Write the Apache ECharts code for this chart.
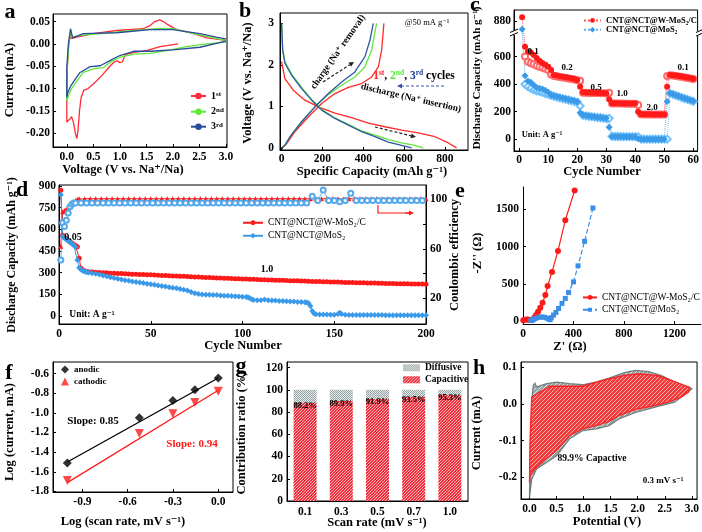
<!DOCTYPE html>
<html><head><meta charset="utf-8">
<script src="https://cdn.jsdelivr.net/npm/echarts@6/dist/echarts.min.js"></script>
<style>html,body{margin:0;padding:0;background:#fff}#c{width:702px;height:532px}</style>
</head><body><div id="c"></div>
<script>
// ---------------- DATA ----------------
// (a) CV curves, [V, mA]
const aCycle1 = [[2.10,0.000],[1.76,-0.006],[1.50,-0.015],[1.26,-0.019],[1.10,-0.024],[1.05,-0.040],[1.00,-0.042],[0.95,-0.038],[0.90,-0.040],[0.82,-0.049],[0.66,-0.071],[0.50,-0.090],[0.40,-0.100],[0.32,-0.104],[0.27,-0.120],[0.24,-0.150],[0.21,-0.195],[0.19,-0.212],[0.16,-0.200],[0.13,-0.178],[0.09,-0.163],[0.06,-0.168],[0.03,-0.172],[0.00,-0.175],[0.00,-0.130],[0.01,-0.053],[0.03,-0.008],[0.06,0.020],[0.08,0.012],[0.10,0.008],[0.19,0.015],[0.50,0.023],[0.94,0.030],[1.44,0.034],[1.57,0.041],[1.66,0.050],[1.75,0.054],[1.82,0.050],[1.88,0.045],[2.07,0.032],[2.39,0.023],[2.64,0.0135],[3.00,0.008]];
const aCycle2 = [[3.00,0.004],[2.64,0.000],[2.26,-0.006],[1.88,-0.015],[1.57,-0.021],[1.26,-0.023],[1.00,-0.030],[0.82,-0.041],[0.69,-0.053],[0.50,-0.056],[0.31,-0.064],[0.19,-0.083],[0.09,-0.100],[0.03,-0.117],[0.00,-0.128],[0.00,-0.090],[0.01,-0.053],[0.04,0.000],[0.075,0.030],[0.10,0.015],[0.25,0.019],[0.63,0.023],[1.26,0.030],[1.76,0.035],[2.00,0.034],[2.39,0.023],[2.76,0.0135],[3.00,0.0075]];
const aCycle3 = [[3.00,0.006],[2.51,-0.0075],[2.00,-0.0135],[1.57,-0.0165],[1.26,-0.0165],[1.00,-0.026],[0.82,-0.037],[0.63,-0.049],[0.44,-0.051],[0.25,-0.064],[0.16,-0.079],[0.075,-0.094],[0.02,-0.109],[0.00,-0.120],[0.00,-0.090],[0.00,-0.053],[0.03,0.000],[0.07,0.034],[0.08,0.038],[0.11,0.0135],[0.31,0.023],[0.94,0.025],[1.57,0.032],[2.00,0.032],[2.51,0.023],[2.82,0.015],[2.97,0.012],[3.00,0.011]];
// (b) charge / discharge, [mAh/g, V]
const bDis1 = [[0,2.08],[16,1.67],[57,1.39],[114,1.15],[180,0.99],[261,0.84],[343,0.73],[425,0.60],[506,0.51],[588,0.43],[670,0.36],[751,0.27],[817,0.12],[857,0.0]];
const bCha1 = [[0,0],[24,0.10],[65,0.39],[131,0.75],[196,1.07],[261,1.31],[327,1.46],[392,1.55],[441,1.71],[474,1.95],[490,2.36],[501,3.0]];
const bDis2 = [[0,3.0],[5,2.36],[16,2.08],[49,1.78],[98,1.46],[147,1.17],[196,0.93],[261,0.72],[327,0.57],[392,0.41],[457,0.31],[523,0.20],[588,0.12],[653,0.06],[694,0]];
const bCha2 = [[0,0],[16,0.06],[41,0.27],[98,0.63],[163,0.99],[229,1.29],[294,1.51],[359,1.71],[408,1.95],[441,2.36],[465,3.0]];
const bDis3 = [[0,3.0],[5,2.36],[16,2.04],[49,1.75],[98,1.43],[147,1.15],[196,0.91],[261,0.71],[327,0.55],[392,0.39],[457,0.27],[523,0.14],[588,0.06],[637,0]];
const bCha3 = [[0,0],[16,0.06],[41,0.27],[98,0.63],[163,0.99],[229,1.31],[294,1.59],[359,1.83],[408,2.20],[433,2.60],[449,3.0]];
// (c) rate capability, cycle 1..60
const cRedDis = [905,672,636,630,612,590,570,553,540,527, 503,467,462,458,454,450,446,442,437,430, 382,341,340,339,338,337,336,336,335,334, 290,262,261,261,260,260,260,259,259,259, 200,182,181,181,181,180,180,180,180,180, 382,467,465,462,459,456,452,448,444,440];
const cRedCha = [null,600,563,551,544,534,527,519,512,503, 470,460,456,452,448,445,441,437,433,429, 425,338,337,336,336,335,335,334,334,333, 338,260,260,259,259,259,258,258,258,258, 249,181,180,180,180,179,179,179,179,179, 460,464,462,459,456,453,449,445,441,437];
const cBlueDis = [818,461,423,413,394,375,370,365,355,341, 321,316,310,305,299,294,289,284,279,273, 193,176,172,169,166,163,160,158,155,152, 87,20,20,20,19,19,19,19,18,18, 3,1,1,1,1,1,1,1,1,1, 275,335,328,320,313,305,298,291,284,277];
const cBlueCha = [null,399,382,370,358,351,346,341,332,327, 318,312,306,300,295,290,285,280,275,270, 242,173,170,167,164,161,158,156,153,150, 152,21,20,20,20,19,19,19,19,19, 18,2,1,1,1,1,1,1,1,1, 1,333,326,318,311,303,296,289,282,275];
const cRateLabels = ['0.1','0.2','0.5','1.0','2.0','0.1'];
// (d) long cycling
const dCapRed = [870,560,545,535,525,515,505,495,488,480,400,330,318,312,308,
 306,305,303,302,300,299,297,296,295,294, 293,291,290,289,288,287,286,285,284,283,
 281,280,279,278,277,276,275,273,272,271, 270,268,267,266,265,264,263,262,261,260,
 259,258,257,256,255,254,253,252,251,250, 249,248,248,247,246,245,244,244,243,242,
 241,240,240,239,238,237,236,236,235,234, 233,232,232,231,230,230,229,229,228,227,
 227,226,226,225,224,224,223,223,222,222, 221,221,220];
const dCapBlue = [[1,840],[2,550],[3,540],[4,530],[5,520],[6,510],[7,500],[8,490],[9,478],[10,388],[11,335],[12,322],[13,314],[14,308],[15,304],[16,301],[18,297],[20,292],[22,287],[24,281],[26,275],[28,269],[30,263],[32,258],[34,253],[36,248],[38,244],[40,240],[42,236],[44,232],[46,228],[48,224],[50,220],[52,216],[54,212],[56,208],[58,204],[60,200],[62,196],[64,192],[66,187],[68,182],[70,176],[72,166],[74,157],[76,152],[78,150],[80,148],[82,147],[84,146],[86,145],[88,143],[90,141],[92,140],[94,138],[96,137],[98,135],[100,134],[102,132],[103,130],[104,124],[105,116],[106,111],[108,110],[110,109],[112,115],[114,110],[116,108],[118,107],[120,105],[122,104],[124,103],[126,101],[128,100],[130,98],[132,97],[134,95],[135,93],[136,88],[137,70],[138,35],[139,18],[140,13],[142,11],[144,10],[146,10],[148,9],[150,9],[152,14],[153,22],[154,14],[156,9],[158,8],[160,8],[162,8],[164,8],[166,8],[168,7],[170,7],[172,7],[174,7],[176,7],[178,6],[180,6],[182,6],[184,6],[186,6],[188,6],[190,5],[192,5],[194,5],[196,5],[198,5],[200,5]];
const dCeRed = [62,90,91,92,93,94.5,96,97.5,99,100,100.5,
 100.5,100.5,100.5,100.5,100.5,100.5,100.5,100.5,100.5,100.5, 100.5,100.5,100.5,100.5,100.5,100.5,100.5,100.5,100.5,100.5,
 100.5,100.5,100.5,100.5,100.5,100.5,100.5,100.5,100.5,100.5, 100.5,100.5,100.5,100.5,100.5,100.5,100.5,100.5,100.5,100.5,
 100.5,100.5,100.5,100.5,100.5,100.5,100.5,100.5,100.5,100.5, 100.5,100.5,100.5,100.5,100.5,100.5,100.5,100.5,100.5,100.5,
 100.5,100.5,100.5];
const dCeBlue = [51,81,78,83,89,94,96,97,97,
 97,97,97,97,97,97,97,97,97,97, 97,97,97,97,97,97,97,97,97,97, 97,97,97,97,97,97,97,97,97,97, 97,97,97,97,97,97,97,97,97,97, 97,97,
 102.5,99,107.5,99,99,98,99,105,
 99,99,99,99,99,99,99,99,99,99,99,99,99];
// (e) Nyquist, [Z', -Z'']
const eRed = [[2,9],[14,18],[27,22],[40,20],[52,15],[65,13],[78,18],[89,45],[103,80],[119,125],[137,178],[155,245],[177,348],[195,469],[230,660],[277,942],[335,1353],[409,1754]];
const eBlue = [[62,6],[78,18],[95,32],[112,44],[130,52],[150,55],[170,50],[190,38],[205,25],[215,18],[224,45],[242,80],[261,116],[282,170],[309,237],[335,304],[361,384],[400,526],[436,741],[488,1071],[554,1518]];
// (f) log i vs log v
const fLogV = [-1.0,-0.523,-0.301,-0.155,0.0];
const fAnodic = [-1.51,-1.05,-0.875,-0.765,-0.645];
const fCathodic = [-1.69,-1.21,-1.01,-0.895,-0.78];
const fAnodicFit = [[-1.0,-1.50],[0.0,-0.645]];
const fCathodicFit = [[-1.0,-1.71],[0.0,-0.77]];
// (g) contribution ratio
const gRates = ['0.1','0.3','0.5','0.7','1.0'];
const gCapacitive = [88.2,89.9,91.9,93.5,95.3];
const gDiffusive = [11.8,10.1,8.1,6.5,4.7];
// (h) CV loops at 0.3 mV/s
const hTotal = [[0,-0.255],[0.02,-0.10],[0.05,0.02],[0.07,0.05],[0.10,0.056],[0.13,0.046],[0.32,0.055],[0.50,0.059],[0.74,0.055],[0.98,0.052],[1.23,0.059],[1.47,0.070],[1.77,0.086],[1.96,0.091],[2.20,0.088],[2.44,0.077],[2.68,0.059],[2.96,0.045],[3.00,0.041],[2.93,0.032],[2.68,0.0045],[2.32,-0.009],[1.96,-0.023],[1.65,-0.041],[1.47,-0.059],[1.23,-0.068],[0.98,-0.073],[0.74,-0.095],[0.50,-0.141],[0.32,-0.159],[0.13,-0.177],[0.04,-0.205],[0.00,-0.255]];
const hCapacitive = [[0.0,-0.214],[0.01,-0.10],[0.04,0.018],[0.13,0.027],[0.38,0.048],[0.74,0.048],[0.98,0.048],[1.35,0.064],[1.72,0.077],[2.02,0.082],[2.38,0.077],[2.62,0.064],[2.87,0.050],[2.96,0.045],[2.94,0.032],[2.80,0.018],[2.56,0.0045],[2.32,-0.0045],[1.96,-0.015],[1.65,-0.032],[1.47,-0.048],[1.23,-0.059],[0.98,-0.068],[0.74,-0.086],[0.50,-0.127],[0.26,-0.155],[0.10,-0.177],[0.01,-0.195],[0.0,-0.214]];

// ---------------- HELPERS ----------------
const FONT = '"Liberation Serif","Times New Roman","DejaVu Serif",serif';
const range = (a,b,s) => { const r=[]; for (let v=a; v<=b; v+=s) r.push(v); return r; };
const pairs = (xs, ys) => xs.map((x,i) => [x, ys[i]]);
const RED='#ff1a1a', GREEN='#5fe83a', NAVY='#2b4c9b', LBLUE='#3a9ae8';

function vaxis(grid, min, max, ticks, fmt, margin, extra) {
  return Object.assign({
    type:'value', gridIndex:grid, min:min, max:max,
    axisLine:{show:true, onZero:false, lineStyle:{color:'#000', width:1}},
    axisTick:{show:true, inside:true, length:3, customValues:ticks, lineStyle:{color:'#000'}},
    axisLabel:{show:true, customValues:ticks, formatter:fmt, color:'#000', fontFamily:FONT, fontWeight:'bold', fontSize:11.5, margin:margin},
    splitLine:{show:false}
  }, extra||{});
}
function txt(x, y, text, size, opt) {
  opt = opt || {};
  return {type:'text', x:x, y:y, rotation:opt.rot||0, silent:true, z:100,
    style:{text:text, fill:opt.color||'#000', font:(opt.weight||'bold')+' '+size+'px '+FONT,
      align:opt.align||'center', verticalAlign:'middle', rich:opt.rich}};
}
function arrow(x1,y1,x2,y2,color,dash) {
  const ang = Math.atan2(y2-y1, x2-x1), L=5, W=2.5;
  const bx = x2 - L*Math.cos(ang), by = y2 - L*Math.sin(ang);
  return [
    {type:'line', silent:true, z:100, shape:{x1:x1,y1:y1,x2:bx,y2:by}, style:{stroke:color, lineWidth:1.2, lineDash: dash?[3,2]:null}},
    {type:'polygon', silent:true, z:100, shape:{points:[[x2,y2],[bx-W*Math.sin(ang), by+W*Math.cos(ang)],[bx+W*Math.sin(ang), by-W*Math.cos(ang)]]}, style:{fill:color}}
  ];
}
function pat(w, h, bg, fg, pts) {
  const c = document.createElement('canvas'); c.width=w; c.height=h;
  const x = c.getContext('2d'); x.fillStyle=bg; x.fillRect(0,0,w,h); x.fillStyle=fg;
  pts.forEach(p => x.fillRect(p[0],p[1],1,1));
  return {image:c, repeat:'repeat'};
}
function leg(name, left, cy, iw, ih, size, weight, extra) {
  return Object.assign({
    data:[name], left:left, top:cy - size/2 - 0.5, orient:'vertical', padding:0, itemGap:0,
    itemWidth:iw, itemHeight:ih, selectedMode:false,
    textStyle:{fontFamily:FONT, fontSize:size, fontWeight:weight, color:'#000'}
  }, extra||{});
}
const cBreak = v => v == null ? null : (v > 770 ? v - 20 : v);

const capPat = pat(3,3,'#f0303c','#ffb4b8',[[0,0],[2,1],[1,2]]);
const difPat = pat(2,2,'#e4eaea','#97a5a5',[[0,0],[1,1]]);
const hRedPat = pat(4,4,'#f23c3c','#ffaaaa',[[3,0],[2,1],[1,2],[0,3]]);
const hGrayPat = pat(4,4,'#98a4a4','#dde3e3',[[3,0],[2,1],[1,2],[0,3]]);

// ---------------- GRIDS & AXES ----------------
const gb = {show:true, borderColor:'#000', borderWidth:1};
const grids = [
  Object.assign({left:53, top:14, width:174, height:133}, gb),
  Object.assign({left:280, top:13, width:188, height:137}, gb),
  Object.assign({left:514, top:10, width:186, height:141}, gb),
  Object.assign({left:59, top:185, width:367, height:139}, gb),
  {left:523, top:187, width:178, height:137},
  Object.assign({left:53, top:362, width:180, height:130}, gb),
  Object.assign({left:287, top:362, width:181, height:139}, gb),
  Object.assign({left:521, top:362, width:178, height:137}, gb)
];
const f1 = v => v.toFixed(1), f2 = v => v.toFixed(2), f0 = v => String(v);
const xAxes = [
  vaxis(0,-0.26,3.02,[0,0.5,1,1.5,2,2.5,3],f1,4),
  vaxis(1,-8,913,[0,200,400,600,800],f0,3),
  vaxis(2,-1.8,61.5,[0,10,20,30,40,50,60],f0,3),
  vaxis(3,0,200,[0,50,100,150,200],f0,4),
  vaxis(4,0,1410,[0,400,800,1200],f0,4),
  vaxis(5,-1.095,0.0975,[-0.9,-0.6,-0.3,0],f1,4),
  {type:'category', gridIndex:6, data:gRates,
    axisLine:{show:true, lineStyle:{color:'#000'}},
    axisTick:{show:true, inside:true, length:3, alignWithLabel:true, lineStyle:{color:'#000'}},
    axisLabel:{color:'#000', fontFamily:FONT, fontWeight:'bold', fontSize:11.5, margin:5, interval:0}},
  vaxis(7,-0.157,3.097,[0,0.5,1,1.5,2,2.5,3],f1,4)
];
const yAxes = [
  vaxis(0,-0.231,0.067,[-0.2,-0.15,-0.1,-0.05,0,0.05],f2,3),
  vaxis(1,-0.05,3.25,[0,1,2,3],f0,6),
  vaxis(2,-85,938,[0,200,400,600,860],v => v===860?'880':String(v),3),
  vaxis(3,-55,907,[0,150,300,450,600,750,900],f0,3),
  vaxis(3,-0.8,111.6,[20,60,100],f0,4,{position:'right',
     axisTick:{show:true, inside:true, length:3, customValues:[20,40,60,80,100], lineStyle:{color:'#000'}}}),
  vaxis(4,-40,1800,[0,500,1000,1500],f0,4),
  vaxis(5,-1.806,-0.482,[-1.8,-1.6,-1.4,-1.2,-1.0,-0.8,-0.6],f1,4),
  vaxis(6,0,125,[0,20,40,60,80,100,120],f0,4),
  vaxis(7,-0.259,0.114,[-0.2,-0.1,0,0.1],f1,4)
];

// ---------------- SERIES ----------------
const S = [];
function ln(name, xi, yi, data, color, w, extra) {
  S.push(Object.assign({name:name, type:'line', xAxisIndex:xi, yAxisIndex:yi, data:data, symbol:'none',
    lineStyle:{color:color, width:w||1.3}, itemStyle:{color:color}, silent:true}, extra||{}));
}
// a
ln('1st',0,0,aCycle1,'#ff2a3a',1.3);
ln('2nd',0,0,aCycle2,GREEN,1.3);
ln('3rd',0,0,aCycle3,NAVY,1.3);
// b
ln('b1d',1,1,bDis1,'#ff2a2a',1.3); ln('b1c',1,1,bCha1,'#ff2a2a',1.3);
ln('b2d',1,1,bDis2,GREEN,1.3); ln('b2c',1,1,bCha2,GREEN,1.3);
ln('b3d',1,1,bDis3,'#2d55a5',1.3); ln('b3c',1,1,bCha3,'#2d55a5',1.3);
// c
const cCyc = range(1,60,1);
const cNameW = 'CNT@NCT@W-MoS\u2082/C', cNameM = 'CNT@NCT@MoS\u2082';
ln('cRedCha',2,2,pairs(cCyc,cRedCha.map(cBreak)),'#ff6a6a',1,{symbol:'emptyCircle',symbolSize:6,lineStyle:{color:'#ff8080',width:1,type:'dotted'},connectNulls:true});
ln('cBlueCha',2,2,pairs(cCyc,cBlueCha.map(cBreak)),'#6cc0ff',1,{symbol:'emptyDiamond',symbolSize:7,lineStyle:{color:'#7cc8ff',width:1,type:'dotted'},connectNulls:true});
ln(cNameW,2,2,pairs(cCyc,cRedDis.map(cBreak)),RED,1,{symbol:'circle',symbolSize:6,lineStyle:{color:'#ff5a5a',width:1,type:'dotted'}});
ln(cNameM,2,2,pairs(cCyc,cBlueDis.map(cBreak)),LBLUE,1,{symbol:'diamond',symbolSize:7,lineStyle:{color:'#5ab0f5',width:1,type:'dotted'}});
// d
const dNameW = cNameW + '\u200b', dNameM = cNameM + '\u200b';
const dCapRedCyc = range(1,15,1).concat(range(16,200,2));
const dCeRedCyc = range(1,11,1).concat(range(14,200,3));
const dCeBlueCyc = range(1,9,1).concat(range(12,198,3));
ln('dCeRed',3,4,pairs(dCeRedCyc,dCeRed),RED,1,{symbol:'triangle',symbolSize:5,lineStyle:{color:RED,width:1}});
ln('dCeBlue',3,4,pairs(dCeBlueCyc,dCeBlue),'#55aaee',1,{symbol:'emptyCircle',symbolSize:5,lineStyle:{color:'#66b4f0',width:1}});
ln(dNameW,3,3,pairs(dCapRedCyc,dCapRed),RED,1,{symbol:'circle',symbolSize:5,lineStyle:{color:RED,width:1}});
ln(dNameM,3,3,dCapBlue,LBLUE,1,{symbol:'diamond',symbolSize:6,lineStyle:{color:LBLUE,width:1}});
// e
const eNameW = cNameW + '\u200b\u200b', eNameM = cNameM + '\u200b\u200b';
ln(eNameW,4,5,eRed,RED,1.2,{symbol:'circle',symbolSize:6});
ln(eNameM,4,5,eBlue,'#3a8ee6',1.2,{symbol:'rect',symbolSize:5,lineStyle:{color:'#3a8ee6',width:1.2,type:'dashed'}});
// f
ln('fitA',5,6,fAnodicFit,'#000',1.3);
ln('fitC',5,6,fCathodicFit,RED,1.3);
S.push({name:'anodic', type:'scatter', xAxisIndex:5, yAxisIndex:6, data:pairs(fLogV,fAnodic), symbol:'diamond', symbolSize:9, itemStyle:{color:'#000'}, silent:true});
S.push({name:'cathodic', type:'scatter', xAxisIndex:5, yAxisIndex:6, data:pairs(fLogV,fCathodic), symbol:'triangle', symbolRotate:180, symbolSize:9, itemStyle:{color:RED}, silent:true});
// g
S.push({name:'Capacitive', type:'bar', xAxisIndex:6, yAxisIndex:7, stack:'g', data:gCapacitive, barWidth:23,
  itemStyle:{color:capPat}, silent:true,
  label:{show:true, position:'insideTop', distance:-2, formatter:'{c}%', color:'#000', fontFamily:FONT, fontWeight:'bold', fontSize:8.5}});
S.push({name:'Diffusive', type:'bar', xAxisIndex:6, yAxisIndex:7, stack:'g', data:gDiffusive, barWidth:23,
  itemStyle:{color:difPat}, silent:true});
// h
function loopSeries(name, pts, fill, stroke) {
  S.push({name:name, type:'custom', xAxisIndex:7, yAxisIndex:8, data:[[0,0]], silent:true,
    renderItem:(params, api) => ({type:'polygon', shape:{points: pts.map(p => api.coord(p))},
      style:{fill:fill, stroke:stroke, lineWidth:1.3}})});
}
loopSeries('hTotal', hTotal, hGrayPat, '#6f7f7f');
loopSeries('hCap', hCapacitive, hRedPat, '#ff2020');

// ---------------- LEGENDS ----------------
const supRich = {s:{fontSize:7, fontWeight:'bold', fontFamily:FONT, verticalAlign:'top', lineHeight:11}};
const legends = [
  leg('1st',190,96,15,8,10,'bold',{formatter:n => n.charAt(0)+'{s|'+n.slice(1)+'}', textStyle:{fontFamily:FONT,fontSize:10,fontWeight:'bold',color:'#000',lineHeight:11,rich:supRich}}),
  leg('2nd',190,111.7,15,8,10,'bold',{formatter:n => n.charAt(0)+'{s|'+n.slice(1)+'}', textStyle:{fontFamily:FONT,fontSize:10,fontWeight:'bold',color:'#000',lineHeight:11,rich:supRich}}),
  leg('3rd',190,126.7,15,8,10,'bold',{formatter:n => n.charAt(0)+'{s|'+n.slice(1)+'}', textStyle:{fontFamily:FONT,fontSize:10,fontWeight:'bold',color:'#000',lineHeight:11,rich:supRich}}),
  leg(cNameW,583,20.7,17,6,8.5,'bold'),
  leg(cNameM,583,30,17,7,8.5,'bold'),
  leg(dNameW,242,223,20,6,9.5,'normal',{formatter:n => n.replace(/\u200b/g,'')}),
  leg(dNameM,242,236,20,7,9.5,'normal',{formatter:n => n.replace(/\u200b/g,'')}),
  leg(eNameW,582,297.7,14,6,9.5,'normal',{formatter:n => n.replace(/\u200b/g,'')}),
  leg(eNameM,582,310,14,5,9.5,'normal',{formatter:n => n.replace(/\u200b/g,'')}),
  leg('anodic',61,370,8,8,9,'bold'),
  leg('cathodic',61,382,8,8,9,'bold'),
  leg('Diffusive',403,368,17,7,9.5,'bold',{icon:'rect'}),
  leg('Capacitive',403,380,17,7,9.5,'bold',{icon:'rect'})
];

// ---------------- TEXT / ANNOTATIONS ----------------
const V = Math.PI/2;
let G = [
  txt(10,12,'a',22), txt(245,11,'b',22), txt(475,5,'c',22), txt(22,190,'d',22),
  txt(460,191,'e',22), txt(9,373,'f',22), txt(241,366,'g',22), txt(479,368,'h',22),
  txt(10,80,'Current (mA)',12.5,{rot:V}),
  txt(123,170,'Voltage (V vs. Na\u207A/Na)',12.5),
  txt(248,83,'Voltage (V vs. Na\u207A/Na)',12.5,{rot:V}),
  txt(372,172,'Specific Capacity (mAh g\u207B\u00B9)',12.5),
  txt(477,78,'Discharge Capacity (mAh g\u207B\u00B9)',11,{rot:V}),
  txt(602,172,'Cycle Number',12.5),
  txt(12,255,'Discharge Capacity (mAh g\u207B\u00B9)',12,{rot:V}),
  txt(455,255,'Coulombic efficiency',12.5,{rot:V}),
  txt(243,346,'Cycle Number',12.5),
  txt(478,253,"-Z'' (\u03A9)",12.5,{rot:V}),
  txt(570,347,"Z' (\u03A9)",12.5),
  txt(10,432,'Log (current, mA)',12.5,{rot:V}),
  txt(123,522,'Log (scan rate, mV s\u207B\u00B9)',12.5),
  txt(242,433,'Contribution ratio (%)',12.5,{rot:V}),
  txt(377,523,'Scan rate (mV s\u207B\u00B9)',12.5),
  txt(477,433,'Current (mA)',12.5,{rot:V}),
  txt(607,522,'Potential (V)',12.5),
  // b annotations
  txt(427,23,'@50 mA g\u207B\u00B9',8.5,{weight:'normal'}),
  txt(338,52,'charge (Na\u207A removal)',9.5,{rot:55*Math.PI/180}),
  txt(411,98,'discharge (Na\u207A insertion)',9.5,{rot:-13*Math.PI/180}),
  txt(414,76,'{r|1}{rs|st}{k|, }{g|2}{gs|nd}{k|, }{b|3}{bs|rd}{k| cycles}',11,{rich:{
    r:{fill:'#ff2020',fontSize:11.5,fontWeight:'bold',fontFamily:FONT,lineHeight:13},
    rs:{fill:'#ff2020',fontSize:7.5,fontWeight:'bold',fontFamily:FONT,verticalAlign:'top',lineHeight:13},
    g:{fill:'#55ee33',fontSize:11.5,fontWeight:'bold',fontFamily:FONT,lineHeight:13},
    gs:{fill:'#55ee33',fontSize:7.5,fontWeight:'bold',fontFamily:FONT,verticalAlign:'top',lineHeight:13},
    b:{fill:'#1a3a9a',fontSize:11.5,fontWeight:'bold',fontFamily:FONT,lineHeight:13},
    bs:{fill:'#1a3a9a',fontSize:7.5,fontWeight:'bold',fontFamily:FONT,verticalAlign:'top',lineHeight:13},
    k:{fill:'#000',fontSize:11.5,fontWeight:'bold',fontFamily:FONT,lineHeight:13}}}),
  // c annotations
  txt(533,52,cRateLabels[0],9), txt(567,68,cRateLabels[1],9), txt(596,88,cRateLabels[2],9),
  txt(622,94,cRateLabels[3],9), txt(652,108,cRateLabels[4],9), txt(683,68,cRateLabels[5],9),
  txt(542,135,'Unit: A g\u207B\u00B9',8.5),
  // d annotations
  txt(73,237,'0.05',10), txt(267,269,'1.0',10), txt(92,315,'Unit: A g\u207B\u00B9',9.5),
  {type:'polyline', silent:true, z:100, shape:{points:[[378,205],[378,213],[409,213]]}, style:{stroke:RED, lineWidth:1.2, fill:null}},
  // f annotations
  txt(93,421,'Slope: 0.85',11), txt(192,444,'Slope: 0.94',11,{color:RED}),
  // h annotations
  txt(592,459,'89.9% Capactive',9.5), txt(663,481,'0.3 mV s\u207B\u00B9',9)
];
G = G.concat(arrow(405,213,414,213,RED,false));
G = G.concat(arrow(323,82,354,62,'#222',true));
G = G.concat(arrow(444,86,397,86,'#3a55a5',true));
G = G.concat(arrow(375,127,416,137,'#222',true));
// c axis break marks
[514,700].forEach(x => {
  G.push({type:'rect', silent:true, z:101, shape:{x:x-3, y:31, width:6, height:4}, style:{fill:'#fff'}});
  G.push({type:'line', silent:true, z:102, shape:{x1:x-4,y1:32.5,x2:x+4,y2:29}, style:{stroke:'#000',lineWidth:1}});
  G.push({type:'line', silent:true, z:102, shape:{x1:x-4,y1:36,x2:x+4,y2:32.5}, style:{stroke:'#000',lineWidth:1}});
});

const chart = echarts.init(document.getElementById('c'), null, {renderer:'canvas'});
chart.setOption({
  animation:false, backgroundColor:'#fff',
  grid:grids, xAxis:xAxes, yAxis:yAxes, series:S, legend:legends, graphic:G
});
</script></body></html>
